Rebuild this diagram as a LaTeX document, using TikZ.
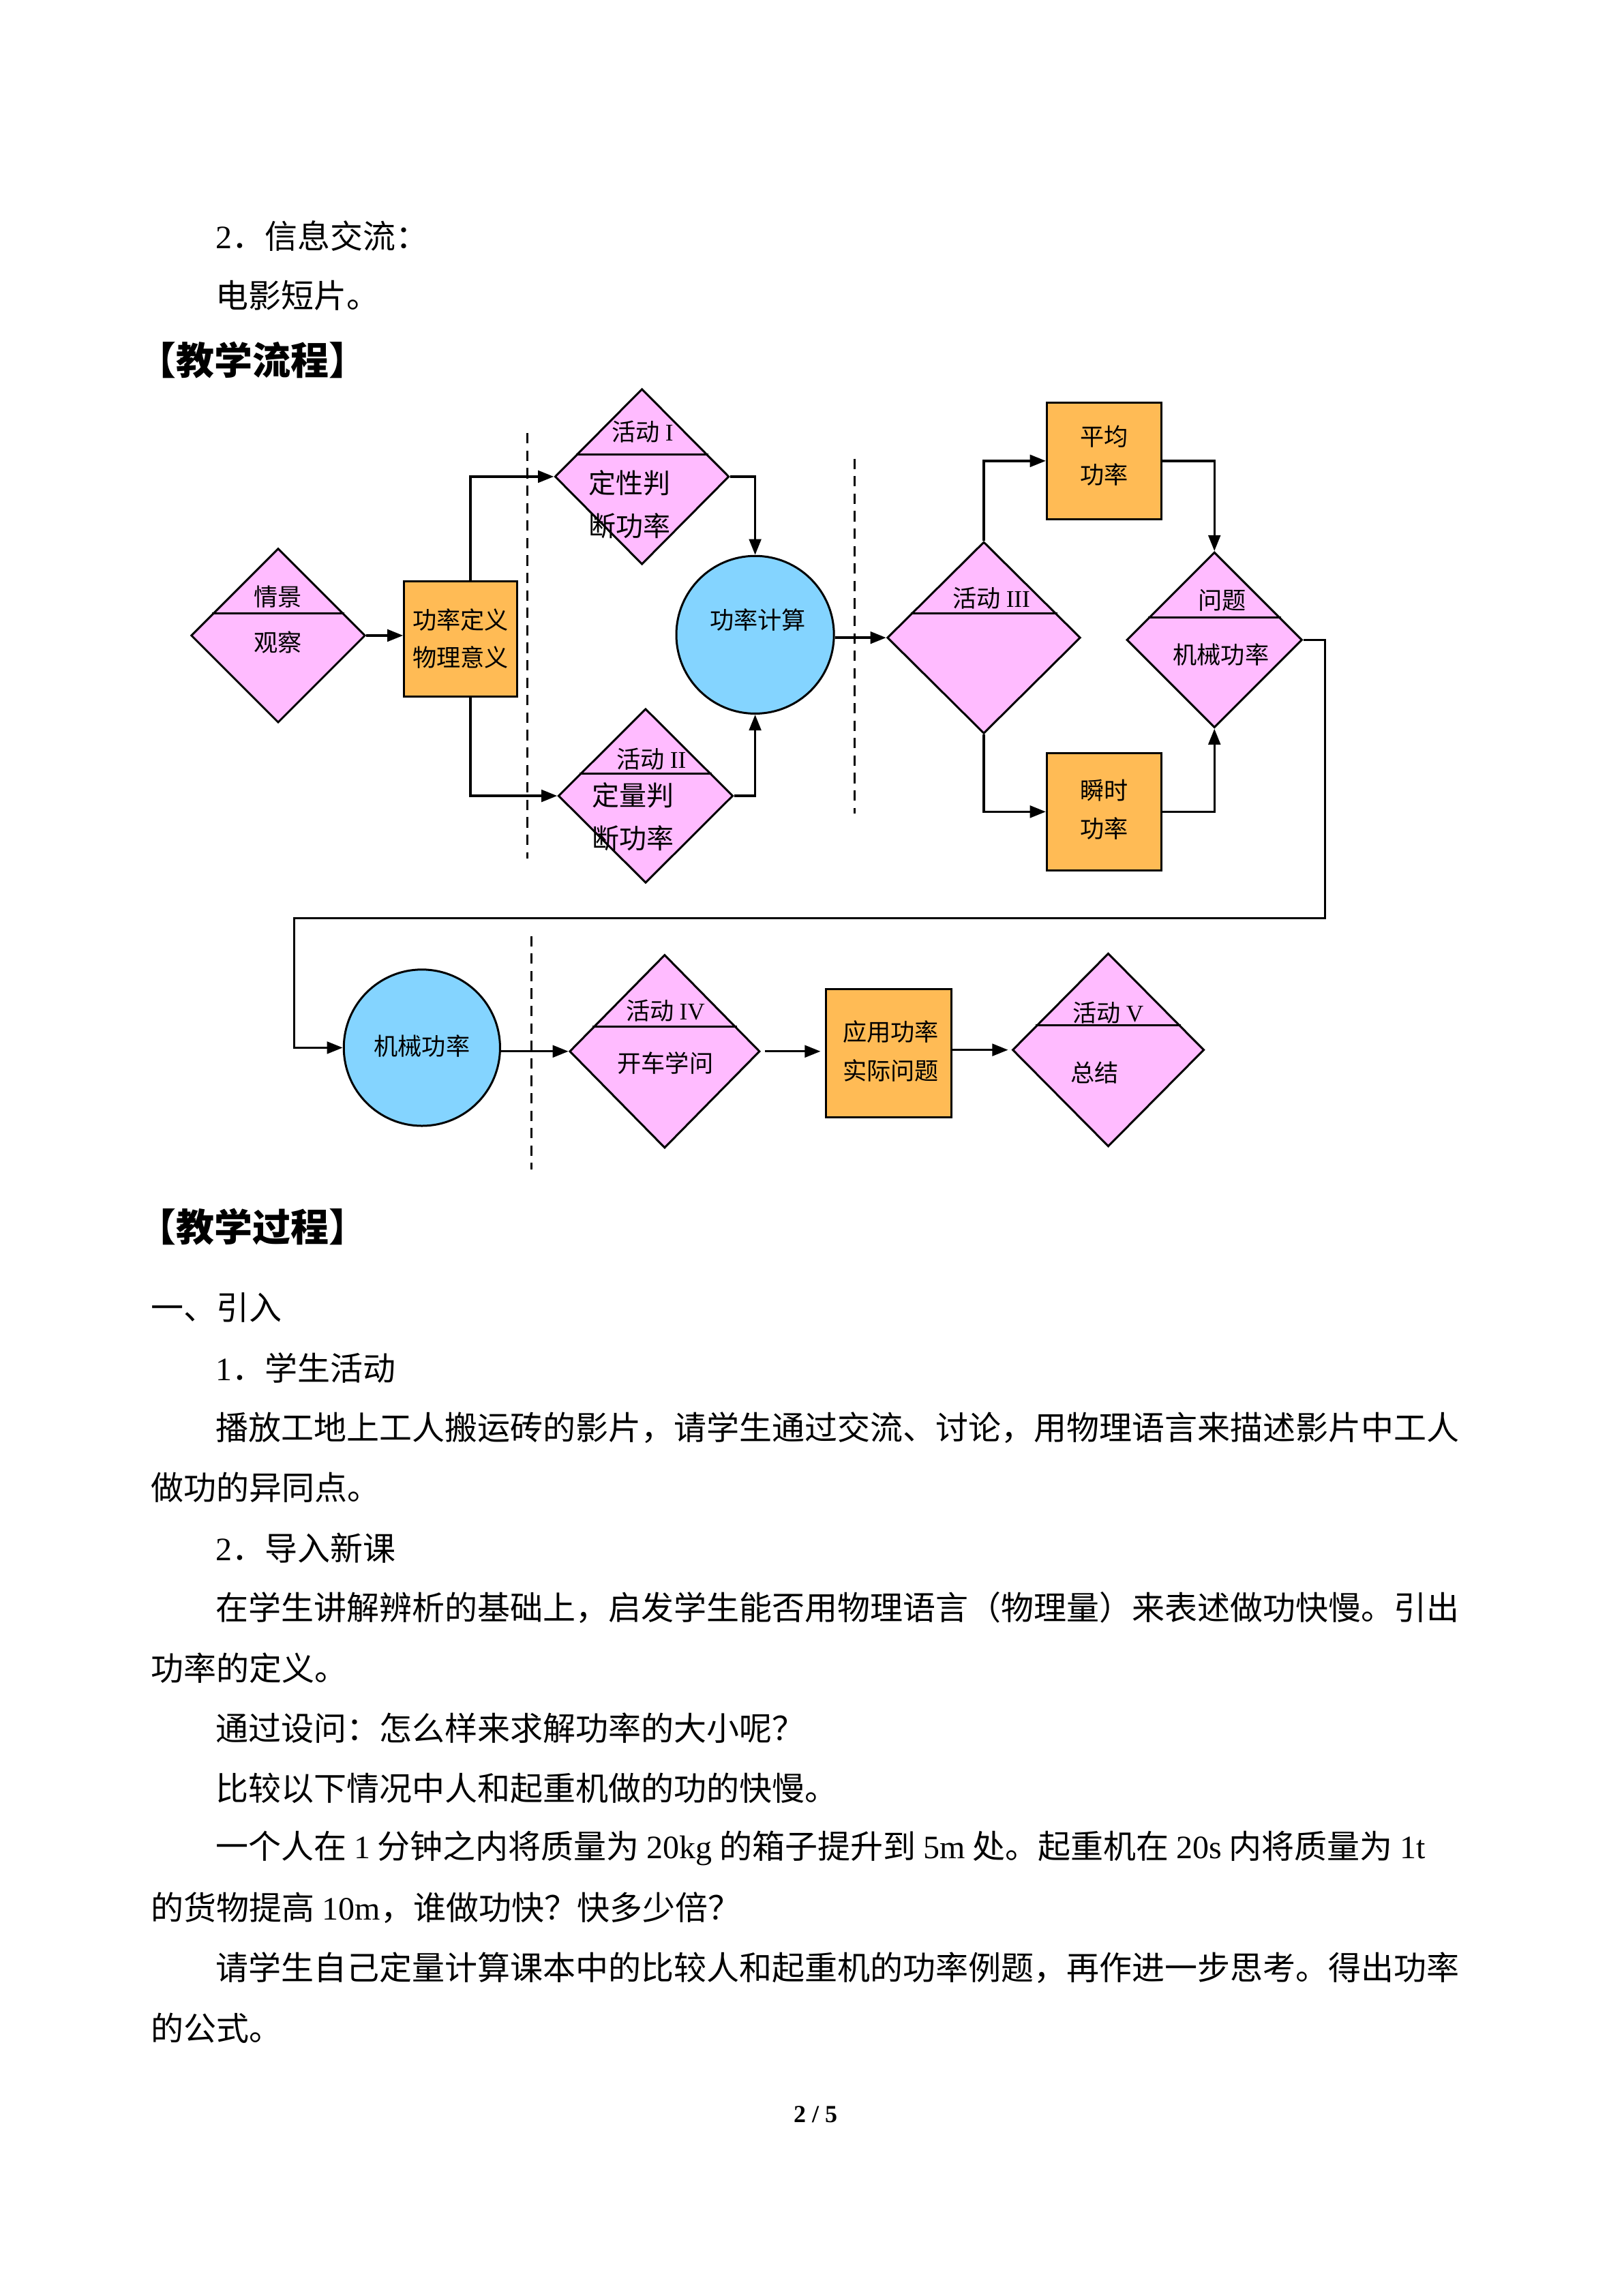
\documentclass[tikz,border=0pt]{standalone}
\usepackage{fontspec}
\setmainfont{Liberation Serif}
\newfontfamily\cjk{Noto Sans CJK SC}
\usetikzlibrary{shapes.geometric,arrows.meta,calc}
\definecolor{pinkf}{RGB}{255,187,255}
\definecolor{orangef}{RGB}{255,187,85}
\definecolor{bluef}{RGB}{132,212,255}
\newcommand\lt[1]{{\rmfamily #1}}
\tikzset{
  dia/.style={diamond, draw, line width=0.75pt, fill=pinkf, inner sep=0pt},
  obox/.style={rectangle, draw, line width=0.75pt, fill=orangef, inner sep=0pt},
  bcirc/.style={circle, draw, line width=0.75pt, fill=bluef, inner sep=0pt},
  divl/.style={line width=0.75pt},
  arr/.style={line width=0.85pt, -{Triangle[length=5.8pt,width=4.4pt]}},
  dline/.style={line width=0.8pt, dash pattern=on 3.8pt off 2.6pt},
  lbl/.style={font=\cjk\fontsize{8.8}{10}\selectfont, inner sep=0pt},
  lblb/.style={font=\cjk\fontsize{10}{12}\selectfont, inner sep=0pt},
  body/.style={font=\cjk\fontsize{12}{14}\selectfont, anchor=west, inner sep=0pt},
  head/.style={font=\cjk\bfseries\fontsize{14}{16}\selectfont, anchor=west, inner sep=0pt},
  foot/.style={font=\bfseries\fontsize{9}{11}\selectfont, inner sep=0pt}
}
\begin{document}
\begin{tikzpicture}[x=0.5368pt,y=-0.5368pt]
\useasboundingbox (0,0) rectangle (1109,1568);
\fill[white] (0,0) rectangle (1109,1568);

% ---------- body text ----------
\node[body] (p1) at (147,161) {\lt{2}．信息交流：};
\node[body] (p2) at (147,202) {电影短片。};
\node[head] (h1) at (94,246) {【教学流程】};
\node[head] (h2) at (94,838) {【教学过程】};
\node[body] (p3) at (103,893) {一、引入};
\node[body] (p4) at (147,934) {\lt{1}．学生活动};
\node[body] (p5) at (147,975) {播放工地上工人搬运砖的影片，请学生通过交流、讨论，用物理语言来描述影片中工人};
\node[body] (p6) at (103,1016) {做功的异同点。};
\node[body] (p7) at (147,1057) {\lt{2}．导入新课};
\node[body] (p8) at (147,1098) {在学生讲解辨析的基础上，启发学生能否用物理语言（物理量）来表述做功快慢。引出};
\node[body] (p9) at (103,1139) {功率的定义。};
\node[body] (p10) at (147,1180) {通过设问：怎么样来求解功率的大小呢？};
\node[body] (p11) at (147,1221) {比较以下情况中人和起重机做的功的快慢。};
\node[body] (p12) at (147,1262) {一个人在 \lt{1} 分钟之内将质量为 \lt{20kg} 的箱子提升到 \lt{5m} 处。起重机在 \lt{20s} 内将质量为 \lt{1t}};
\node[body] (p13) at (103,1303) {的货物提高 \lt{10m}，谁做功快？快多少倍？};
\node[body] (p14) at (147,1344) {请学生自己定量计算课本中的比较人和起重机的功率例题，再作进一步思考。得出功率};
\node[body] (p15) at (103,1385) {的公式。};
\node[foot] (ft) at (557,1444) {2 / 5};

% ---------- dashed separators ----------
\coordinate (s1a) at (360.2,295.8); \coordinate (s1b) at (360.2,586.4);
\coordinate (s2a) at (583.6,313.2); \coordinate (s2b) at (583.6,555.5);
\coordinate (s3a) at (363,639.2);   \coordinate (s3b) at (363,798.8);
\draw[dline] (s1a) -- (s1b);
\draw[dline] (s2a) -- (s2b);
\draw[dline] (s3a) -- (s3b);

% ---------- shapes ----------
\node[dia, minimum width=63.9pt, minimum height=63.9pt] (D1) at (190,434) {};
\node[dia, minimum width=63.9pt, minimum height=64.4pt] (D2) at (438.5,325.5) {};
\node[dia, minimum width=64.1pt, minimum height=63.9pt] (D3) at (441,543.5) {};
\node[dia, minimum width=70.9pt, minimum height=70.3pt] (D4) at (672,435.5) {};
\node[dia, minimum width=64.4pt, minimum height=64.4pt] (D5) at (829.5,437) {};
\node[dia, minimum width=69.8pt, minimum height=70.9pt] (D6) at (454,718) {};
\node[dia, minimum width=70.3pt, minimum height=70.9pt] (D7) at (757,717) {};

\foreach \d in {D1,D2,D3,D4,D5,D6,D7}
  \draw[divl] ($(\d.west)!0.25!(\d.north)$) -- ($(\d.east)!0.25!(\d.north)$);

\node[obox, minimum width=41.5pt, minimum height=42.2pt] (B1) at (314.7,436.5) {};
\node[obox, minimum width=42.1pt, minimum height=42.9pt] (B2) at (754.25,314.75) {};
\node[obox, minimum width=42.1pt, minimum height=42.9pt] (B3) at (754.25,554.35) {};
\node[obox, minimum width=46.2pt, minimum height=47pt] (B4) at (607,719.2) {};

\node[bcirc, minimum size=57.8pt] (C1) at (515.8,433.5) {};
\node[bcirc, minimum size=57.3pt] (C2) at (288.2,715.5) {};

% ---------- labels ----------
\node[lbl] (l1a) at (190,407.6) {情景};
\node[lbl] (l1b) at (190,438.7) {观察};
\node[lbl] (l2a) at (438.9,294.7) {活动 \lt{I}};
\node[lblb] (l2b) at (430,329.7) {定性判};
\node[lblb] (l2c) at (430,359) {断功率};
\node[lbl] (l3a) at (444.9,518.2) {活动 \lt{II}};
\node[lblb] (l3b) at (432.4,543) {定量判};
\node[lblb] (l3c) at (432.4,572.4) {断功率};
\node[lbl] (l4a) at (677.2,408.7) {活动 \lt{III}};
\node[lbl] (l5a) at (834.7,409.8) {问题};
\node[lbl] (l5b) at (834,447.1) {机械功率};
\node[lbl] (l6a) at (454.5,690.1) {活动 \lt{IV}};
\node[lbl] (l6b) at (454.5,725.8) {开车学问};
\node[lbl] (l7a) at (757,691.7) {活动 \lt{V}};
\node[lbl] (l7b) at (747.7,732.5) {总结};
\node[lbl] (lb1a) at (314.7,423.4) {功率定义};
\node[lbl] (lb1b) at (314.7,448.7) {物理意义};
\node[lbl] (lb2a) at (754.4,298) {平均};
\node[lbl] (lb2b) at (754.4,324) {功率};
\node[lbl] (lb3a) at (754.4,539.6) {瞬时};
\node[lbl] (lb3b) at (754.4,565.6) {功率};
\node[lbl] (lb4a) at (608.4,704.8) {应用功率};
\node[lbl] (lb4b) at (608.4,731) {实际问题};
\node[lbl] (lc1) at (517.6,423.4) {功率计算};
\node[lbl] (lc2) at (288.2,714.5) {机械功率};

% ---------- connectors ----------
\draw[arr] (D1.east) -- (D1.east -| B1.west);
\draw[arr] ([xshift=3.6pt]B1.north) |- (D2.west);
\draw[arr] ([xshift=3.6pt]B1.south) |- (D3.west);
\draw[arr] (D2.east) -| (C1.north);
\draw[arr] (D3.east) -| (C1.south);
\draw[arr] (C1.east |- D4.west) -- (D4.west);
\draw[arr] (D4.north) |- (B2.west);
\draw[arr] (D4.south) |- (B3.west);
\draw[arr] (B2.east) -| (D5.north);
\draw[arr] (B3.east) -| (D5.south);
\coordinate (k1) at (905,627);
\coordinate (k2) at (201,627);
\draw[arr] (D5.east) -| (k1) -- (k2) |- (C2.west);
\draw[arr] (C2.east |- D6.west) -- (D6.west);
\draw[arr, shorten <=1.5pt, shorten >=1.5pt] (D6.east) -- (D6.east -| B4.west);
\draw[arr, shorten >=1.2pt] (B4.east |- D7.west) -- (D7.west);
\end{tikzpicture}
\end{document}
